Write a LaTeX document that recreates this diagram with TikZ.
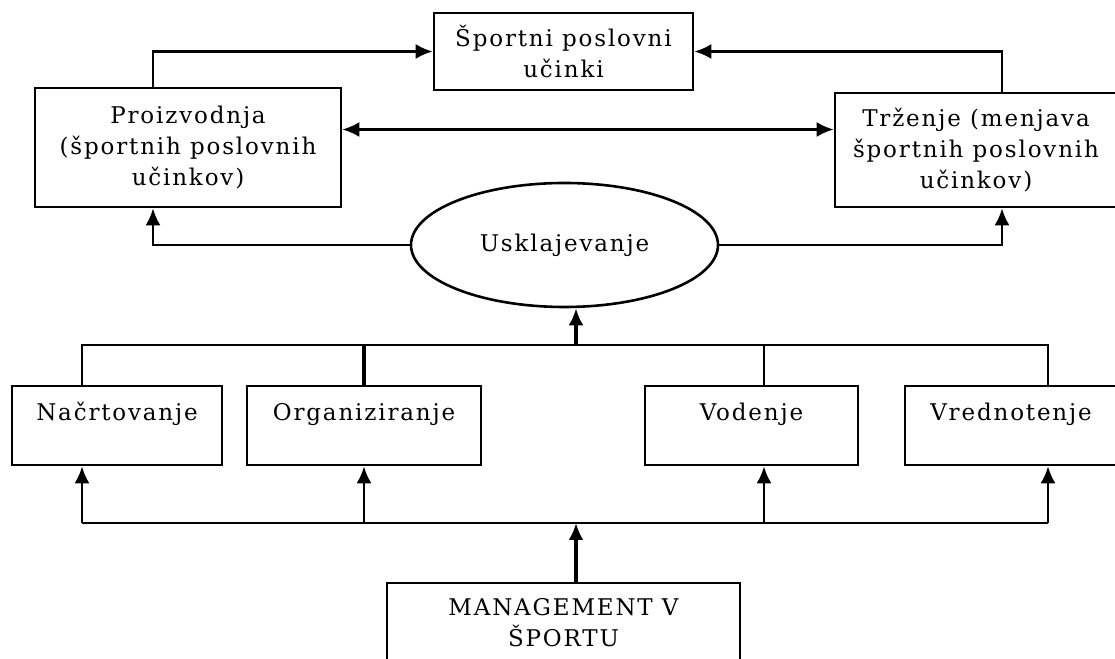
\documentclass[tikz,border=0pt]{standalone}
\usepackage{fontspec}
\setmainfont{DejaVu Serif}[LetterSpace=8]
\usepackage{tikz}
\usetikzlibrary{arrows.meta,positioning,shapes.geometric}
\tikzset{
  flowarrow/.style={-{Latex[length=17pt,width=15pt]},line width=2.6pt,draw=black},
  twowayarrow/.style={{Latex[length=17pt,width=15pt]}-{Latex[length=17pt,width=15pt]},line width=2.6pt,draw=black},
  link/.style={line width=2.6pt,draw=black},
  block/.style={draw=black,line width=2.6pt,align=center,inner sep=0pt,font=\fontsize{23}{31}\selectfont},
  taskbox/.style={block,text height=35pt,text depth=44pt},
  hub/.style={ellipse,draw=black,line width=2.6pt,inner sep=0pt,font=\fontsize{23}{31}\selectfont}
}

\begin{document}
\begin{tikzpicture}[x=1pt,y=1pt]
  \useasboundingbox (0,0) rectangle (1115,658);
  % outcome on top, the two business functions beside it
  \node[block,minimum width=259pt,minimum height=77pt] (results) at (563.5,606.5)
    {Športni poslovni\\učinki};
  \node[block,minimum width=306pt,minimum height=119pt] (proizv) at (188,510.5)
    {Proizvodnja\\(športnih poslovnih\\učinkov)};
  \node[block,minimum width=282pt,minimum height=114pt] (trzenje) at (976,508)
    {Trženje (menjava\\športnih poslovnih\\učinkov)};
  \node[hub,minimum width=307pt,minimum height=124pt] (usklaj) at (564.5,413) {Usklajevanje};

  \node[taskbox,minimum width=210pt] (nacrt) at (117,232.5) {Načrtovanje};
  \node[taskbox,minimum width=234pt] (organ) at (364,232.5) {Organiziranje};
  \node[taskbox,minimum width=213pt] (voden) at (751.5,232.5) {Vodenje};
  \node[taskbox,minimum width=212pt] (vredn) at (1011,232.5) {Vrednotenje};

  \node[block,minimum width=353pt,minimum height=80pt] (mgmt) at (563.5,35)
    {MANAGEMENT V\\ŠPORTU};

  \coordinate (topbar) at (0,313);
  \coordinate (lowbar) at (0,135);

  \draw[flowarrow] ([xshift=-35pt]proizv.north) |- (results.west);
  \draw[flowarrow] ([xshift=26pt]trzenje.north) |- (results.east);
  \draw[twowayarrow] ([yshift=18pt]proizv.east) -- ([yshift=18pt]proizv.east -| trzenje.west);
  \draw[flowarrow] (usklaj.west) -| ([xshift=-35pt]proizv.south);
  \draw[flowarrow] (usklaj.east) -| ([xshift=26pt]trzenje.south);

  \draw[link] ([xshift=-35pt]nacrt.north) |- ([xshift=37pt]vredn.north |- topbar)
    -- ([xshift=37pt]vredn.north);
  \draw[link,line width=3.4pt] (organ.north) -- (organ.north |- topbar);
  \draw[link] ([xshift=12.5pt]voden.north) -- ([xshift=12.5pt]voden.north |- topbar);
  \draw[flowarrow,line width=3.4pt] ([xshift=12.5pt]mgmt.north |- topbar)
    -- ([xshift=12.5pt]mgmt.north |- usklaj.south);

  \draw[link] ([xshift=-35pt]nacrt.south |- lowbar) -- ([xshift=37pt]vredn.south |- lowbar);
  \draw[flowarrow] ([xshift=-35pt]nacrt.south |- lowbar) -- ([xshift=-35pt]nacrt.south);
  \draw[flowarrow] (organ.south |- lowbar) -- (organ.south);
  \draw[flowarrow] ([xshift=12.5pt]voden.south |- lowbar) -- ([xshift=12.5pt]voden.south);
  \draw[flowarrow] ([xshift=37pt]vredn.south |- lowbar) -- ([xshift=37pt]vredn.south);
  \draw[flowarrow,line width=3.4pt] ([xshift=12.5pt]mgmt.north) -- ([xshift=12.5pt]mgmt.north |- lowbar);
\end{tikzpicture}
\end{document}
